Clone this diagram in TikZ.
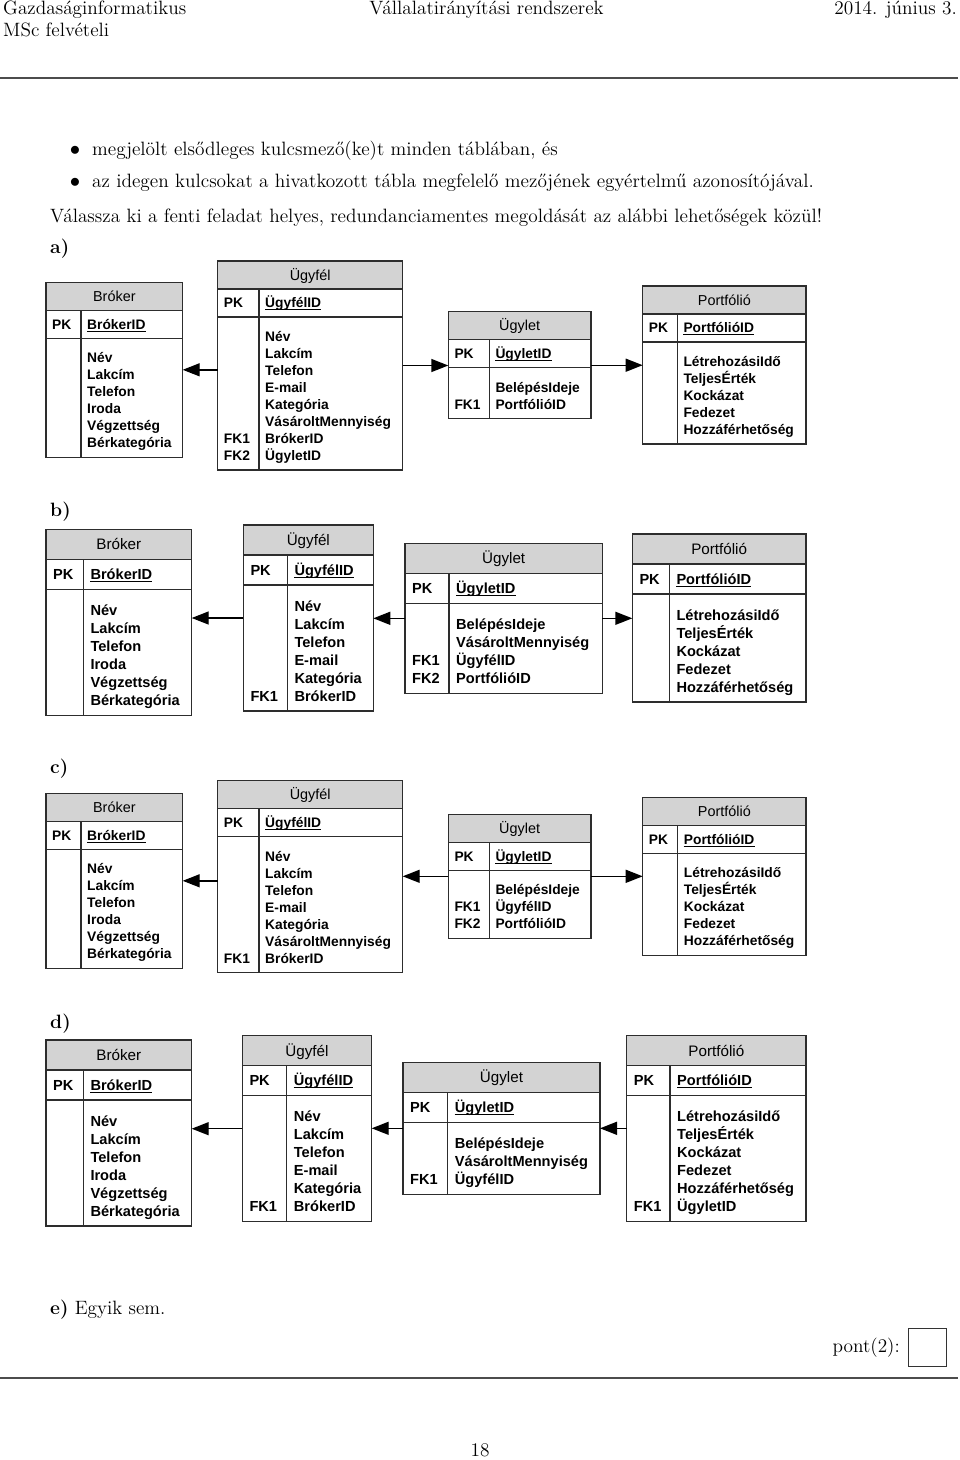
\documentclass[tikz,border=0pt]{standalone}
\usepackage{fontspec}
\setmainfont{lmroman12-regular.otf}[BoldFont=lmroman12-bold.otf]
\newfontfamily\sansfont{Liberation Sans}
\usepackage{tikz}
\usetikzlibrary{arrows.meta}

\definecolor{hdrgray}{RGB}{211,211,211}
\definecolor{framegray}{RGB}{45,45,45}

% scale of one diagram: line skip, row height, padding, field font, title font
\newcommand{\erscale}[5]{\def\erls{#1}\def\errh{#2}\def\erpd{#3}\def\erfs{#4}\def\erts{#5}}

% #1 name, #2 top left, #3 width, #4 divider, #5 title, #6 lines, #7 keys, #8 fields
\newcommand{\ertable}[8]{%
  \begin{scope}[shift={#2}]
    \fill[hdrgray] (0,0) rectangle (#3,\errh);
    \node[tblbox, minimum width=#3, minimum height={2*\errh+(#6+1)*\erls}] (#1) at (0,0) {};
    \draw[tblline] (0,\errh) -- (#3,\errh) (0,2*\errh) -- (#3,2*\errh)
      (#4,\errh) -- (#4,{2*\errh+(#6+1)*\erls});
    \node[ttl] (#1-t) at ({#3/2},{0.5*\errh+0.358*\erts}) {#5};
    \node[fld] (#1-pk) at (\erpd,{1.5*\errh+0.358*\erfs}) {PK};
    \node[fld] (#1-id) at ({#4+\erpd},{1.5*\errh+0.358*\erfs}) {#5ID};
    \draw[line width=1pt] ([yshift=-2pt]#1-id.base west) -- ([yshift=-2pt]#1-id.base east);
    \foreach \fname [count=\row] in {#8}
      \node[fld] (#1-f\row) at ({#4+\erpd},{2*\errh+(\row+0.45)*\erls}) {\fname};
    \if\relax\detokenize{#7}\relax\else
      \foreach \row/\key in {#7}
        \node[fld] (#1-k\row) at (\erpd,{2*\errh+(\row+0.45)*\erls}) {\key};
    \fi
  \end{scope}}

\begin{document}
\begin{tikzpicture}[x=1pt, y=-1pt,
  txt/.style={font=\fontsize{19.3}{23}\selectfont, inner sep=0, anchor=base west},
  tblbox/.style={draw=framegray, line width=1.1pt, inner sep=0, outer sep=0, anchor=north west},
  tblline/.style={draw=framegray, line width=1.1pt},
  ttl/.style={font=\sansfont\fontsize{\erts}{\erts}\selectfont, inner sep=0, anchor=base},
  fld/.style={font=\sansfont\bfseries\fontsize{\erfs}{\erls}\selectfont, inner sep=0, anchor=base west},
  fk/.style={-{Triangle[length=17pt,width=13pt]}, line width=1.4pt}]
\useasboundingbox (0,0) rectangle (960,1460);

% page header
\node[txt] (hl) at (3,14) {Gazdaságinformatikus};
\node[txt, anchor=base] (hc) at (486.5,14) {Vállalatirányítási rendszerek};
\node[txt, anchor=base east] (hr) at (957,14) {2014. június 3.};
\node[txt] (hl2) at (3,36) {MSc felvételi};
\draw[line width=1.6pt, black!70] (0,78) -- (958,78);

% task text
\node[txt, anchor=base] (b1) at (75,155) {$\bullet$};
\node[txt] (t1) at (92,155) {megjelölt elsődleges kulcsmező(ke)t minden táblában, és};
\node[txt, anchor=base] (b2) at (75,187) {$\bullet$};
\node[txt] (t2) at (92,187) {az idegen kulcsokat a hivatkozott tábla megfelelő mezőjének egyértelmű azonosítójával.};
\node[txt] (t3) at (50,222) {Válassza ki a fenti feladat helyes, redundanciamentes megoldását az alábbi lehetőségek közül!};

% a)
\node[txt] (la) at (50,253) {\textbf{a)}};
\erscale{17}{28}{6}{13.8}{14.4}
\ertable{brokerA}{(46,282.3)}{136.7}{35}{Bróker}{6}{}{Név,Lakcím,Telefon,Iroda,Végzettség,Bérkategória}
\ertable{ugyfelA}{(217.7,261)}{185}{41.3}{Ügyfél}{8}{7/FK1,8/FK2}{Név,Lakcím,Telefon,E-mail,Kategória,VásároltMennyiség,BrókerID,ÜgyletID}
\ertable{ugyletA}{(448.3,311.7)}{142.7}{41}{Ügylet}{2}{2/FK1}{BelépésIdeje,PortfólióID}
\ertable{portfolioA}{(642.7,286)}{163.3}{34.6}{Portfólió}{5}{}{LétrehozásiIdő,TeljesÉrték,Kockázat,Fedezet,Hozzáférhetőség}
\draw[fk] (ugyfelA.west |- brokerA.east) -- (brokerA.east);
\draw[fk] (ugyfelA.east) -- (ugyletA.west |- ugyfelA.east);
\draw[fk] (ugyletA.east) -- (portfolioA.west |- ugyletA.east);

% b)
\node[txt] (lb) at (50,516) {\textbf{b)}};
\erscale{18}{30}{7}{14.6}{15.2}
\ertable{brokerB}{(46,529.3)}{145.7}{37.3}{Bróker}{6}{}{Név,Lakcím,Telefon,Iroda,Végzettség,Bérkategória}
\ertable{ugyfelB}{(243.3,525)}{130}{44}{Ügyfél}{6}{6/FK1}{Név,Lakcím,Telefon,E-mail,Kategória,BrókerID}
\ertable{ugyletB}{(405,543.3)}{197.3}{44}{Ügylet}{4}{3/FK1,4/FK2}{BelépésIdeje,VásároltMennyiség,ÜgyfélID,PortfólióID}
\ertable{portfolioB}{(632.3,534)}{173.7}{37}{Portfólió}{5}{}{LétrehozásiIdő,TeljesÉrték,Kockázat,Fedezet,Hozzáférhetőség}
\draw[fk] (ugyfelB.west) -- (brokerB.east |- ugyfelB.west);
\draw[fk] (ugyletB.west) -- (ugyfelB.east |- ugyletB.west);
\draw[fk] (ugyletB.east) -- (portfolioB.west |- ugyletB.east);

% c)
\node[txt] (lc) at (50,773) {\textbf{c)}};
\erscale{17}{28}{6}{13.8}{14.4}
\ertable{brokerC}{(46,793.3)}{136.7}{35}{Bróker}{6}{}{Név,Lakcím,Telefon,Iroda,Végzettség,Bérkategória}
\ertable{ugyfelC}{(217.7,780.7)}{185}{41.3}{Ügyfél}{7}{7/FK1}{Név,Lakcím,Telefon,E-mail,Kategória,VásároltMennyiség,BrókerID}
\ertable{ugyletC}{(448.3,814.3)}{142.7}{41}{Ügylet}{3}{2/FK1,3/FK2}{BelépésIdeje,ÜgyfélID,PortfólióID}
\ertable{portfolioC}{(642.7,797.3)}{163.3}{35}{Portfólió}{5}{}{LétrehozásiIdő,TeljesÉrték,Kockázat,Fedezet,Hozzáférhetőség}
\draw[fk] (ugyfelC.west |- brokerC.east) -- (brokerC.east);
\draw[fk] (ugyletC.west) -- (ugyfelC.east |- ugyletC.west);
\draw[fk] (ugyletC.east) -- (portfolioC.west |- ugyletC.east);

% d)
\node[txt] (ld) at (50,1028) {\textbf{d)}};
\erscale{18}{30}{7}{14.6}{15.2}
\ertable{brokerD}{(46,1040)}{145.7}{37.3}{Bróker}{6}{}{Név,Lakcím,Telefon,Iroda,Végzettség,Bérkategória}
\ertable{ugyfelD}{(242.3,1035.7)}{129.4}{44.4}{Ügyfél}{6}{6/FK1}{Név,Lakcím,Telefon,E-mail,Kategória,BrókerID}
\ertable{ugyletD}{(403,1062.3)}{197}{44.7}{Ügylet}{3}{3/FK1}{BelépésIdeje,VásároltMennyiség,ÜgyfélID}
\ertable{portfolioD}{(626.7,1035.7)}{179.3}{43.3}{Portfólió}{6}{6/FK1}{LétrehozásiIdő,TeljesÉrték,Kockázat,Fedezet,Hozzáférhetőség,ÜgyletID}
\draw[fk] (ugyfelD.west) -- (brokerD.east |- ugyfelD.west);
\draw[fk] (ugyletD.west) -- (ugyfelD.east |- ugyletD.west);
\draw[fk] (portfolioD.west |- ugyletD.east) -- (ugyletD.east);

% e) and footer
\node[txt] (le) at (50,1314) {\textbf{e)} Egyik sem.};
\node[txt, anchor=base east] (pont) at (900,1352) {pont(2):};
\node[draw=black!80, line width=1pt, minimum width=38, minimum height=38, inner sep=0, anchor=north west] (pbox) at (908,1328) {};
\draw[line width=1.6pt, black!70] (0,1378) -- (958,1378);
\node[txt, anchor=base] (pg) at (480,1456) {18};
\end{tikzpicture}
\end{document}
